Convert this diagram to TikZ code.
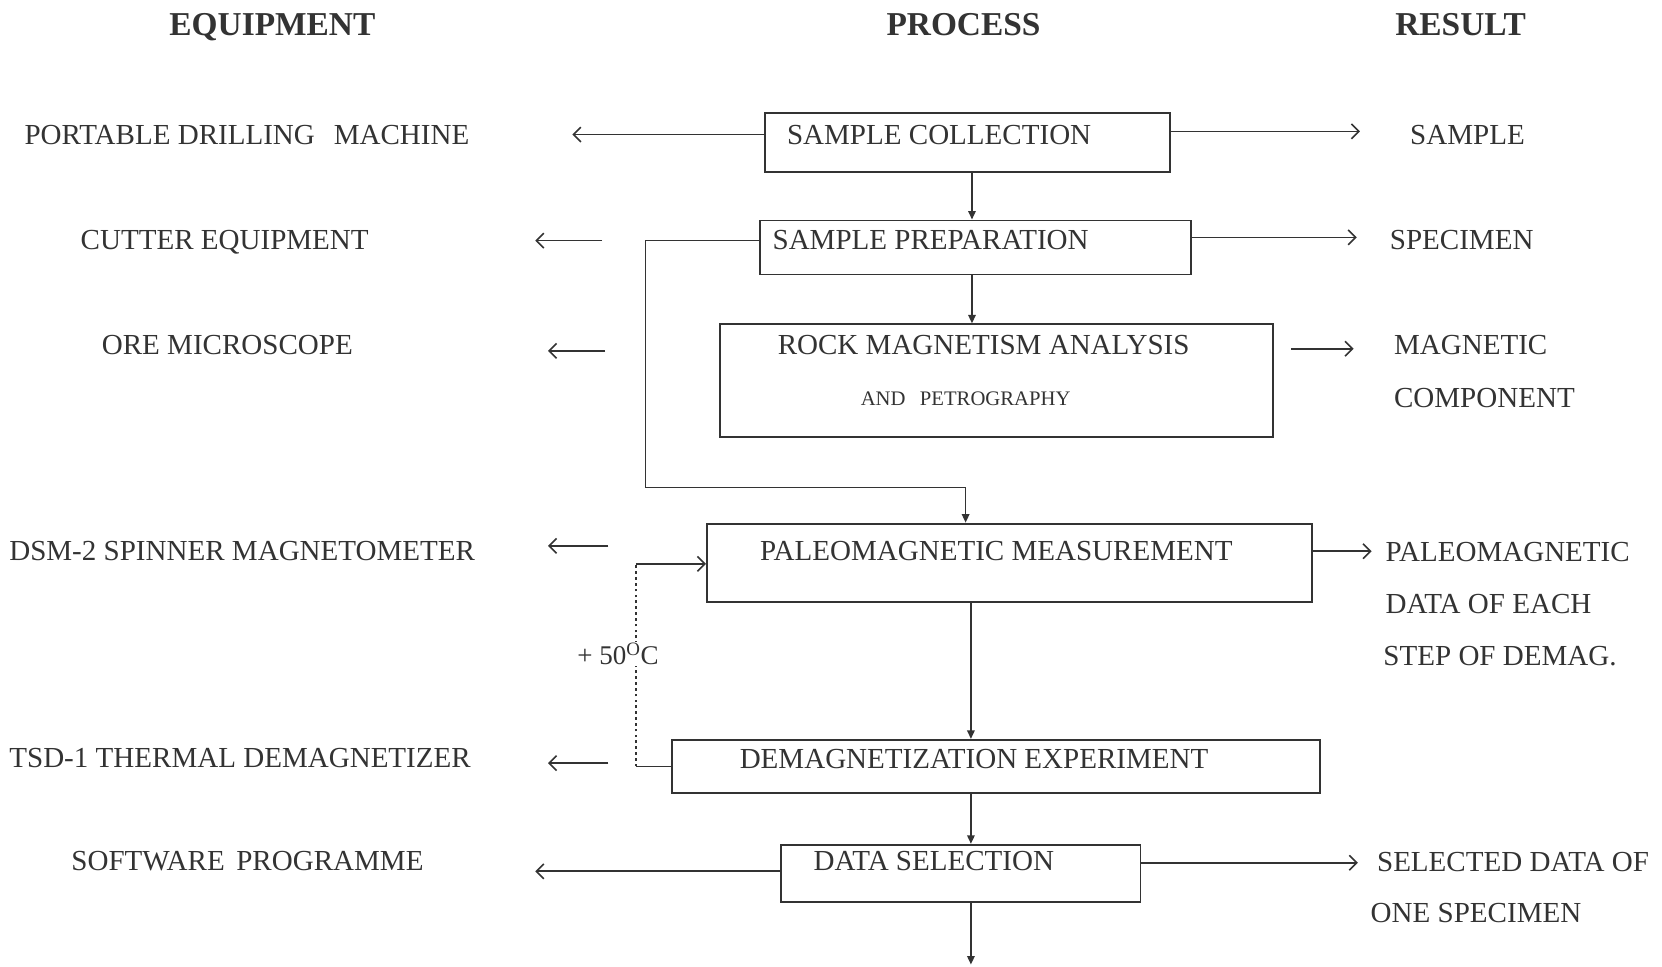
\documentclass[tikz,border=0pt]{standalone}
\usepackage{fontspec}
\setmainfont{Liberation Serif}
\usetikzlibrary{arrows.meta,calc}
\definecolor{ink}{HTML}{333333}
\begin{document}
\begin{tikzpicture}[x=1pt,y=-1pt,
  box/.style={draw=ink, line width=1.8pt, inner sep=0, fill=none},
  txt/.style={inner sep=0, text=ink, font=\fontsize{27.4}{30}\selectfont, text height=18.1pt, text depth=0pt},
  smalltxt/.style={inner sep=0, text=ink, font=\fontsize{19.5}{22}\selectfont, text height=12.9pt, text depth=0pt},
  head/.style={inner sep=0, text=ink, font=\fontsize{31.5}{34}\selectfont\bfseries, text height=21.3pt, text depth=0pt},
  conn/.style={draw=ink, line width=1.6pt},
  harr/.style={conn, -{Straight Barb[length=7pt,width=14pt,line width=1.5pt]}},
  varr/.style={conn, -{Triangle[length=8pt,width=7pt]}},
  dotline/.style={draw=ink, line width=1pt, dash pattern=on 2.5pt off 3pt}
]
\useasboundingbox (0,0) rectangle (1568,912);
\fill[white] (0,0) rectangle (1568,912);

% headings
\node[head] (hE) at (257,23) {EQUIPMENT};
\node[head] (hP) at (909,23) {PROCESS};
\node[head] (hR) at (1378,23) {RESULT};

% process boxes
\node[box, minimum width=382, minimum height=55] (sc) at (913,134.5) {};
\node[box, minimum width=407, minimum height=51] (sp) at (920.5,233.5) {};
\node[box, minimum width=522, minimum height=106] (rm) at (940,359) {};
\node[box, minimum width=571, minimum height=74] (pm) at (952.5,531) {};
\node[box, minimum width=611, minimum height=50] (de) at (939.5,723) {};
\node[box, minimum width=339, minimum height=54] (ds) at (906.5,824) {};

% box texts
\node[txt] (tsc) at (886,127) {SAMPLE COLLECTION};
\node[txt] (tsp) at (878,226) {SAMPLE PREPARATION};
\node[txt] (trm) at (928,325) {ROCK MAGNETISM ANALYSIS};
\node[smalltxt] (trm2) at (911,376) {AND\hspace{0.45em} PETROGRAPHY};
\node[txt] (tpm) at (940,520) {PALEOMAGNETIC MEASUREMENT};
\node[txt] (tde) at (919,716) {DEMAGNETIZATION EXPERIMENT};
\node[txt] (tds) at (881,812) {DATA SELECTION};

% equipment
\node[txt] (e1) at (233,127) {PORTABLE DRILLING\hspace{0.4em} MACHINE};
\node[txt] (e2) at (212,226) {CUTTER EQUIPMENT};
\node[txt] (e3) at (214.5,325) {ORE MICROSCOPE};
\node[txt] (e4) at (228.5,520) {DSM-2 SPINNER MAGNETOMETER};
\node[txt] (e5) at (226.5,715) {TSD-1 THERMAL DEMAGNETIZER};
\node[txt] (e6) at (233.5,812) {SOFTWARE\hspace{0.15em} PROGRAMME};

% results
\node[txt] (r1) at (1384.5,127) {SAMPLE};
\node[txt] (r2) at (1379,226) {SPECIMEN};
\node[txt, anchor=west] (r3a) at (1315,325) {MAGNETIC};
\node[txt, anchor=west] (r3b) at (1315,375) {COMPONENT};
\node[txt, anchor=west] (r4a) at (1307,521) {PALEOMAGNETIC};
\node[txt, anchor=west] (r4b) at (1307,570) {DATA OF EACH};
\node[txt, anchor=west] (r4c) at (1305,619) {STEP OF DEMAG.};
\node[txt, anchor=west] (r6a) at (1299,813) {SELECTED DATA OF};
\node[txt, anchor=west] (r6b) at (1293,861) {ONE SPECIMEN};

% helper coordinates
\coordinate (mx) at (917,0);
\coordinate (qx) at (916,0);
\coordinate (px) at (911,0);

% row 1
\coordinate (a1) at (540,127);
\coordinate (b1) at (1283,124);
\draw[harr] (sc.west |- a1) -- (a1);
\draw[harr] (sc.east |- b1) -- (b1);
\draw[varr] (sc.south -| mx) -- (sp.north -| mx);

% row 2
\coordinate (a2s) at (568,227);
\coordinate (a2) at (505,227);
\coordinate (b2) at (1280,224);
\coordinate (lp) at (609,460);
\draw[harr] (a2s) -- (a2);
\draw[harr] (sp.east |- b2) -- (b2);
\draw[varr] (sp.south -| mx) -- (rm.north -| mx);
\draw[varr] (a2s -| sp.west) -| (lp) -| (pm.north -| px);

% row 3
\coordinate (a3s) at (571,331);
\coordinate (a3) at (517,331);
\coordinate (b3s) at (1218,329);
\coordinate (b3) at (1277,329);
\draw[harr] (a3s) -- (a3);
\draw[harr] (b3s) -- (b3);

% row 4
\coordinate (a4s) at (574,515);
\coordinate (a4) at (517,515);
\coordinate (b4) at (1294,520);
\draw[harr] (a4s) -- (a4);
\draw[harr] (pm.east |- b4) -- (b4);
\draw[varr] (pm.south -| qx) -- (de.north -| qx);

% feedback loop
\coordinate (fb) at (600,532);
\draw[conn] (de.west) -- (de.west -| fb);
\draw[dotline] (de.west -| fb) -- (fb);
\draw[harr] (fb) -- (pm.west |- fb);
\node[inner sep=1pt, fill=white, text=ink, font=\fontsize{25.5}{28}\selectfont] (temp) at (583,617) {+ 50\textsuperscript{O}C};

% row 5
\coordinate (a5s) at (574,720);
\coordinate (a5) at (517,720);
\draw[harr] (a5s) -- (a5);
\draw[varr] (de.south -| qx) -- (ds.north -| qx);

% row 6
\coordinate (a6) at (505,822);
\coordinate (b6) at (1281,814);
\coordinate (fin) at (916,910);
\draw[harr] (ds.west |- a6) -- (a6);
\draw[harr] (ds.east |- b6) -- (b6);
\draw[varr] (ds.south -| qx) -- (fin);
\end{tikzpicture}
\end{document}
